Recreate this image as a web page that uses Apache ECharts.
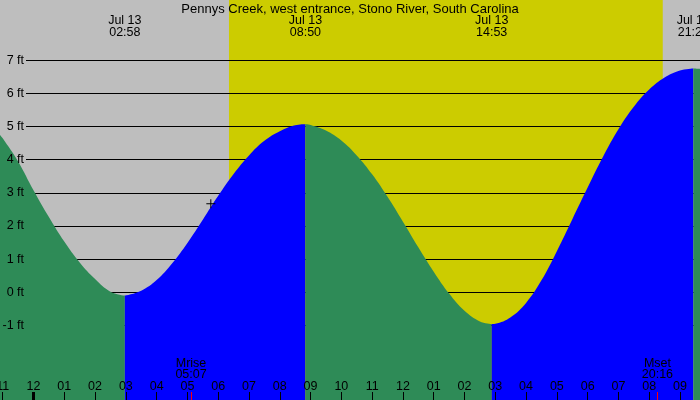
<!DOCTYPE html>
<html><head><meta charset="utf-8">
<script src="https://cdn.jsdelivr.net/npm/echarts@6/dist/echarts.min.js"></script>
<style>html,body{margin:0;padding:0;background:#bebebe}#c{width:700px;height:400px}</style>
</head><body><div id="c"></div>
<script>
const chartTitle = 'Pennys Creek, west entrance, Stono River, South Carolina';
// hours relative to midnight Jul 13
const tideHours   = [-1.088, -1.0, -0.5, 0.0, 0.5, 1.0, 1.5, 2.0, 2.5, 2.967, 3.5, 4.0, 4.5, 5.0, 5.5, 6.0, 6.5, 7.0, 7.5, 8.0, 8.5, 8.833, 9.0, 9.5, 10.0, 10.5, 11.0, 11.5, 12.0, 12.5, 13.0, 13.5, 14.0, 14.5, 14.883, 15.0, 15.5, 16.0, 16.5, 17.0, 17.5, 18.0, 18.5, 19.0, 19.5, 20.0, 20.5, 21.0, 21.433, 21.65];
const tideHeights = [4.75, 4.65, 3.95, 3.08, 2.27, 1.53, 0.9, 0.4, 0.02, -0.1, 0.05, 0.37, 0.87, 1.49, 2.19, 2.91, 3.57, 4.13, 4.57, 4.86, 5.04, 5.07, 5.05, 4.88, 4.58, 4.13, 3.56, 2.88, 2.13, 1.36, 0.62, -0.04, -0.56, -0.88, -0.96, -0.95, -0.75, -0.32, 0.36, 1.24, 2.2, 3.16, 4.09, 4.92, 5.6, 6.12, 6.48, 6.69, 6.75, 6.74];
const extremeHours = [2.967, 8.833, 14.883, 21.433];
const extremeDates = ['Jul 13', 'Jul 13', 'Jul 13', 'Jul 13'];
const extremeTimes = ['02:58', '08:50', '14:53', '21:26'];
const hourTicks  = [-1, 0, 1, 2, 3, 4, 5, 6, 7, 8, 9, 10, 11, 12, 13, 14, 15, 16, 17, 18, 19, 20, 21];
const hourLabels = ['11', '12', '01', '02', '03', '04', '05', '06', '07', '08', '09', '10', '11', '12', '01', '02', '03', '04', '05', '06', '07', '08', '09'];
const midnightHours = [0];
const sunriseHour = 6.35, sunsetHour = 20.44;
const moonHours  = [5.117, 20.267];
const moonLabels = ['Mrise\n05:07', 'Mset\n20:16'];
const yTicks = [-1, 0, 1, 2, 3, 4, 5, 6, 7];
const nowPoint = [5.76, 2.67];

const X_MIN = -1.088, X_MAX = 21.65, Y_MIN = -3.25, Y_MAX = 8.82;
const FONT = 'Liberation Sans';
const FS = 12.5;
const segColors = ['#2e8b57', '#0000ff'];

const bounds = [-Infinity].concat(extremeHours, [Infinity]);
const tideSeries = [];
for (let s = 0; s < bounds.length - 1; s++) {
  const pts = [];
  tideHours.forEach((h, i) => { if (h >= bounds[s] && h <= bounds[s + 1]) pts.push([h, tideHeights[i]]); });
  tideSeries.push({
    type: 'line', xAxisIndex: 0, yAxisIndex: 0, data: pts, smooth: 0.4,
    symbol: 'none', lineStyle: { width: 0 },
    areaStyle: { color: segColors[s % 2], opacity: 1, origin: 'start' },
    z: 2, silent: true, animation: false
  });
}

const noLine = { show: false, onZero: false };
const chart = echarts.init(document.getElementById('c'), null, { renderer: 'canvas' });
chart.setOption({
  animation: false,
  textStyle: { fontFamily: FONT },
  title: { text: chartTitle, left: 'center', top: 3, padding: 0,
    textStyle: { fontSize: 13, fontWeight: 'normal', color: '#000', fontFamily: FONT } },
  grid: [
    { left: 0, right: 0, top: 0, bottom: 0, show: true, backgroundColor: '#bebebe', borderWidth: 0, outerBoundsMode: 'none', containLabel: false },
    { left: 26, right: 0, top: 0, bottom: 0, outerBoundsMode: 'none', containLabel: false }
  ],
  xAxis: [
    { gridIndex: 0, type: 'value', min: X_MIN, max: X_MAX, position: 'bottom', z: 5,
      axisLine: noLine, splitLine: { show: false },
      axisTick: { customValues: hourTicks, inside: true, length: 8, lineStyle: { color: '#000', width: 1 } },
      axisLabel: { customValues: hourTicks, inside: true, margin: 7, color: '#000', fontSize: FS, fontFamily: FONT,
        formatter: v => hourLabels[hourTicks.indexOf(v)] } },
    { gridIndex: 0, type: 'value', min: X_MIN, max: X_MAX, position: 'top', z: 5,
      axisLine: noLine, splitLine: { show: false }, axisTick: { show: false },
      axisLabel: { customValues: extremeHours, inside: true, margin: 15, color: '#000', fontSize: FS, lineHeight: 12, fontFamily: FONT,
        formatter: v => { const i = extremeHours.indexOf(v); return extremeDates[i] + '\n' + extremeTimes[i]; } } },
    { gridIndex: 0, type: 'value', min: X_MIN, max: X_MAX, position: 'bottom', z: 5,
      axisLine: noLine, splitLine: { show: false }, axisLabel: { show: false },
      axisTick: { customValues: midnightHours, inside: true, length: 8, lineStyle: { color: '#000', width: 3 } } },
    { gridIndex: 0, type: 'value', min: X_MIN, max: X_MAX, position: 'bottom', z: 6,
      axisLine: noLine, splitLine: { show: false },
      axisTick: { customValues: moonHours, inside: true, length: 8, lineStyle: { color: '#ff0000', width: 1 } },
      axisLabel: { customValues: moonHours, inside: true, margin: 20, color: '#000', fontSize: FS, lineHeight: 11, fontFamily: FONT,
        formatter: v => moonLabels[moonHours.indexOf(v)] } },
    { gridIndex: 1, type: 'value', min: X_MIN, max: X_MAX, show: false, axisLine: noLine }
  ],
  yAxis: [
    { gridIndex: 0, type: 'value', min: Y_MIN, max: Y_MAX, show: false, axisLine: noLine },
    { gridIndex: 1, type: 'value', min: Y_MIN, max: Y_MAX, z: 1,
      axisLine: noLine, axisLabel: { show: false },
      axisTick: { show: false, customValues: yTicks },
      splitLine: { show: true, lineStyle: { color: '#000', width: 1, type: 'solid' } } },
    { gridIndex: 1, type: 'value', min: Y_MIN, max: Y_MAX, position: 'left', z: 5,
      axisLine: noLine, axisTick: { show: false }, splitLine: { show: false },
      axisLabel: { customValues: yTicks, margin: 2, color: '#000', fontSize: FS, fontFamily: FONT,
        formatter: v => v + ' ft' } }
  ],
  series: [
    { type: 'line', xAxisIndex: 0, yAxisIndex: 0, data: [], z: 0, silent: true,
      markArea: { z: 0, silent: true, itemStyle: { color: '#cccc00', borderWidth: 0 }, label: { show: false },
        data: [[{ xAxis: sunriseHour }, { xAxis: sunsetHour }]] } },
    ...tideSeries,
    { type: 'scatter', xAxisIndex: 0, yAxisIndex: 0, z: 4, silent: true,
      symbol: 'path://M4,0H5V9H4ZM0,4H9V5H0Z', symbolSize: 9,
      itemStyle: { color: '#000', opacity: 1 }, data: [nowPoint] }
  ]
});
</script>
</body></html>
